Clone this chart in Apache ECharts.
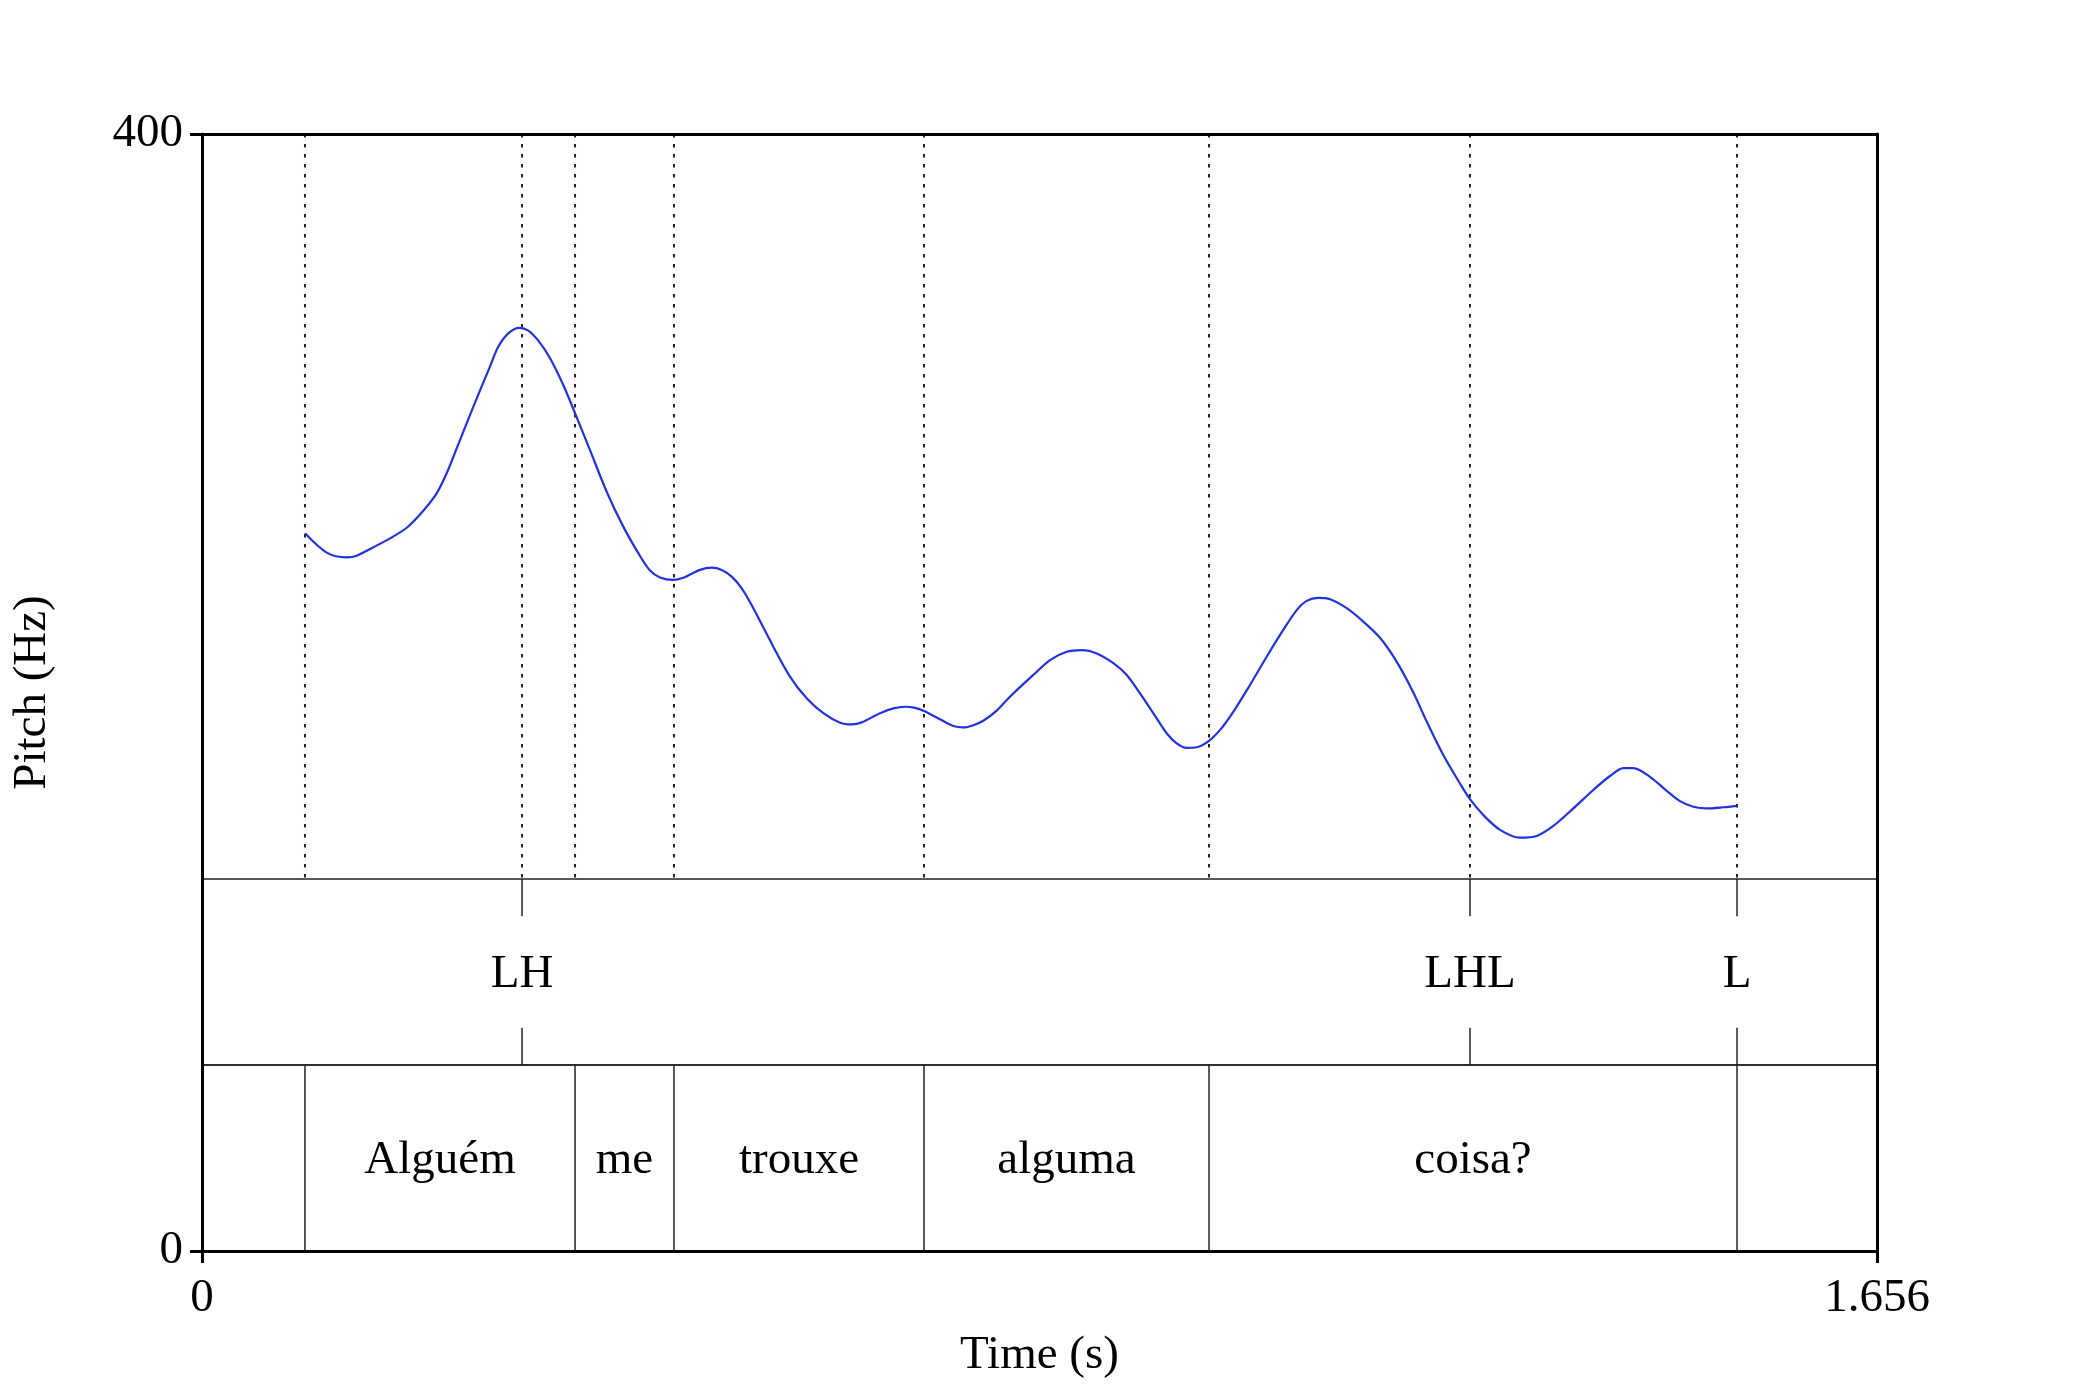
<!DOCTYPE html>
<html>
<head>
<meta charset="utf-8">
<script src="https://cdn.jsdelivr.net/npm/echarts@6/dist/echarts.min.js"></script>
<style>
html,body{margin:0;padding:0;background:#fff;}
#chart{width:2090px;height:1393px;}
</style>
</head>
<body>
<div id="chart"></div>
<script>
// ---------- data ----------
var timeRange = [0, 1.656];          // seconds
var pitchRange = [0, 400];           // Hz (axis)
var xTickValues = [0, 1.656];
var yTickValues = [0, 400];

// pitch contour [time (s), pitch (Hz)]
var pitchTimes = [0.1018,0.1233,0.1431,0.1529,0.1694,0.1859,0.2024,0.2188,0.2320,0.2419,0.2518,0.2682,0.2847,0.2929,0.3028,0.3137,0.3226,0.3325,0.3441,0.3572,0.3688,0.3836,0.4001,0.4165,0.4330,0.4429,0.4528,0.4660,0.4758,0.4924,0.5039,0.5138,0.5237,0.5336,0.5451,0.5648,0.5813,0.5978,0.6143,0.6308,0.6423,0.6522,0.6703,0.6835,0.6950,0.7049,0.7138,0.7296,0.7428,0.7527,0.7626,0.7724,0.7857,0.7988,0.8219,0.8384,0.8549,0.8697,0.8846,0.9010,0.9142,0.9274,0.9405,0.9537,0.9636,0.9735,0.9834,0.9956,1.0065,1.0196,1.0361,1.0526,1.0690,1.0823,1.0922,1.1036,1.1152,1.1317,1.1481,1.1646,1.1805,1.1976,1.2108,1.2272,1.2437,1.2536,1.2668,1.2833,1.3030,1.3196,1.3360,1.3558,1.3755,1.3920,1.4052,1.4151,1.4316,1.4481,1.4612,1.4744,1.4876,1.5041,1.5173];
var pitchValues = [257.0,250.1,248.4,249.0,252.0,255.2,259.0,265.1,271.3,278.5,287.4,302.3,316.7,323.8,328.6,330.6,329.6,326.0,319.7,310.1,300.0,286.8,271.9,259.4,248.9,243.7,241.2,240.3,241.1,243.9,244.7,243.9,241.5,237.3,230.2,216.4,205.7,197.9,192.6,189.2,188.6,189.3,192.6,194.3,194.9,194.5,193.4,190.4,188.0,187.5,188.3,189.9,193.5,198.5,206.3,211.6,214.6,215.2,214.0,210.5,206.3,199.7,192.6,185.4,181.8,180.2,180.4,182.7,186.6,193.1,202.7,212.8,222.4,229.5,232.8,233.9,233.4,230.2,225.4,219.6,211.4,200.0,189.6,177.6,167.4,161.8,156.1,150.8,148.0,148.6,152.2,158.5,165.1,170.1,172.9,172.9,169.8,164.8,161.1,159.1,158.5,158.9,159.4];

// word tier
var words = ['Alguém', 'me', 'trouxe', 'alguma', 'coisa?'];
var wordBoundaries = [0.1018, 0.3688, 0.4666, 0.7138, 0.9956, 1.5176];

// tone tier
var tones = ['LH', 'LHL', 'L'];
var toneTimes = [0.3164, 1.2536, 1.5176];

// ---------- build ----------
var pitchData = pitchTimes.map(function (t, i) { return [t, pitchValues[i]]; });

var wordData = words.map(function (w, i) {
  return [(wordBoundaries[i] + wordBoundaries[i + 1]) / 2, w];
});
var toneData = toneTimes.map(function (t, i) { return [t, tones[i]]; });

var dottedTimes = wordBoundaries.concat(toneTimes).filter(function (v, i, a) {
  return a.indexOf(v) === i;
}).sort(function (a, b) { return a - b; });

var FONT = 'Liberation Serif';
var FS = 47;
var L = 202, R = 2090 - 1877, TOP = 134;
var tier1Top = 879, tier2Top = 1065, bottomY = 1251;
var TEXT_DY = 3;

var chart = echarts.init(document.getElementById('chart'), null, {renderer: 'canvas'});

function hiddenX(gi) {
  return {type: 'value', gridIndex: gi, min: timeRange[0], max: timeRange[1], show: false};
}
function hiddenY(gi) {
  return {type: 'value', gridIndex: gi, min: 0, max: 1, show: false};
}

var option = {
  animation: false,
  backgroundColor: '#ffffff',
  textStyle: {fontFamily: FONT, color: '#000'},
  grid: [
    {left: L, right: R, top: TOP, height: bottomY - TOP, containLabel: false},
    {left: L, right: R, top: TOP, height: tier1Top - TOP},
    {left: L, right: R, top: tier1Top, height: tier2Top - tier1Top, show: true, borderColor: '#222', borderWidth: 1.5, backgroundColor: 'transparent'},
    {left: L, right: R, top: tier2Top, height: bottomY - tier2Top, show: true, borderColor: '#222', borderWidth: 1.5, backgroundColor: 'transparent'}
  ],
  xAxis: [
    {
      type: 'value', gridIndex: 0, position: 'bottom',
      min: timeRange[0], max: timeRange[1], interval: xTickValues[1] - xTickValues[0],
      name: 'Time (s)', nameLocation: 'middle', nameGap: 81,
      nameTextStyle: {fontFamily: FONT, fontSize: FS, color: '#000'},
      axisLine: {show: true, onZero: false, lineStyle: {color: '#000', width: 3}},
      axisTick: {show: true, inside: false, length: 12, lineStyle: {color: '#000', width: 3}},
      axisLabel: {show: true, margin: 24, fontFamily: FONT, fontSize: FS, color: '#000',
        formatter: function (v) { return String(v); }},
      splitLine: {show: false}, z: 10
    },
    {
      type: 'value', gridIndex: 0, position: 'top',
      min: timeRange[0], max: timeRange[1],
      axisLine: {show: true, onZero: false, lineStyle: {color: '#000', width: 3}},
      axisTick: {show: false}, axisLabel: {show: false}, splitLine: {show: false}, z: 10
    },
    hiddenX(1), hiddenX(2), hiddenX(3)
  ],
  yAxis: [
    {
      type: 'value', gridIndex: 0, position: 'left',
      min: pitchRange[0], max: pitchRange[1], interval: yTickValues[1] - yTickValues[0],
      name: 'Pitch (Hz)', nameLocation: 'middle', nameGap: 146, nameRotate: 90,
      nameTextStyle: {fontFamily: FONT, fontSize: FS, color: '#000'},
      axisLine: {show: true, onZero: false, lineStyle: {color: '#000', width: 3}},
      axisTick: {show: true, inside: false, length: 12, lineStyle: {color: '#000', width: 3}},
      axisLabel: {show: true, margin: 19, fontFamily: FONT, fontSize: FS, color: '#000', padding: [10, 0, 0, 0]},
      splitLine: {show: false}, z: 10
    },
    {
      type: 'value', gridIndex: 0, position: 'right',
      min: pitchRange[0], max: pitchRange[1],
      axisLine: {show: true, onZero: false, lineStyle: {color: '#000', width: 3}},
      axisTick: {show: false}, axisLabel: {show: false}, splitLine: {show: false}, z: 10
    },
    hiddenY(1), hiddenY(2), hiddenY(3)
  ],
  series: [
    // dotted boundary lines in the pitch area
    {
      type: 'custom', xAxisIndex: 2, yAxisIndex: 2, silent: true, z: 1,
      data: dottedTimes.map(function (t) { return [t]; }),
      renderItem: function (params, api) {
        var p1 = api.coord([api.value(0), 1]);
        var p2 = api.coord([api.value(0), 0]);
        return {type: 'line', shape: {x1: p1[0], y1: p1[1], x2: p2[0], y2: p2[1]},
          style: {stroke: '#222', lineWidth: 2, lineDash: [3.5, 6.5]}};
      }
    },
    // pitch contour
    {
      type: 'line', xAxisIndex: 0, yAxisIndex: 0, data: pitchData,
      showSymbol: false, symbol: 'none', smooth: 0.3, z: 5,
      lineStyle: {color: '#2233dd', width: 2.2}
    },
    // tone tier points
    {
      type: 'custom', xAxisIndex: 3, yAxisIndex: 3, silent: true, z: 3,
      data: toneData,
      renderItem: function (params, api) {
        var t = api.value(0);
        var top = api.coord([t, 1]), tIn = api.coord([t, 0.8]);
        var bot = api.coord([t, 0]), bIn = api.coord([t, 0.2]);
        var mid = api.coord([t, 0.5]);
        return {type: 'group', children: [
          {type: 'line', shape: {x1: top[0], y1: top[1], x2: tIn[0], y2: tIn[1]}, style: {stroke: '#222', lineWidth: 1.5}},
          {type: 'line', shape: {x1: bot[0], y1: bot[1], x2: bIn[0], y2: bIn[1]}, style: {stroke: '#222', lineWidth: 1.5}},
          {type: 'text', x: mid[0], y: mid[1] + TEXT_DY, style: {text: tones[params.dataIndex], fontFamily: FONT, fontSize: FS, fill: '#000', align: 'center', verticalAlign: 'middle'}}
        ]};
      }
    },
    // word boundaries
    {
      type: 'custom', xAxisIndex: 4, yAxisIndex: 4, silent: true, z: 3,
      data: wordBoundaries.map(function (t) { return [t]; }),
      renderItem: function (params, api) {
        var p1 = api.coord([api.value(0), 1]);
        var p2 = api.coord([api.value(0), 0]);
        return {type: 'line', shape: {x1: p1[0], y1: p1[1], x2: p2[0], y2: p2[1]},
          style: {stroke: '#222', lineWidth: 1.5}};
      }
    },
    // word labels
    {
      type: 'custom', xAxisIndex: 4, yAxisIndex: 4, silent: true, z: 3,
      data: wordData,
      renderItem: function (params, api) {
        var p = api.coord([api.value(0), 0.5]);
        return {type: 'text', x: p[0], y: p[1] + TEXT_DY, style: {text: words[params.dataIndex], fontFamily: FONT, fontSize: FS, fill: '#000', align: 'center', verticalAlign: 'middle'}};
      }
    }
  ]
};
chart.setOption(option);
</script>
</body>
</html>
